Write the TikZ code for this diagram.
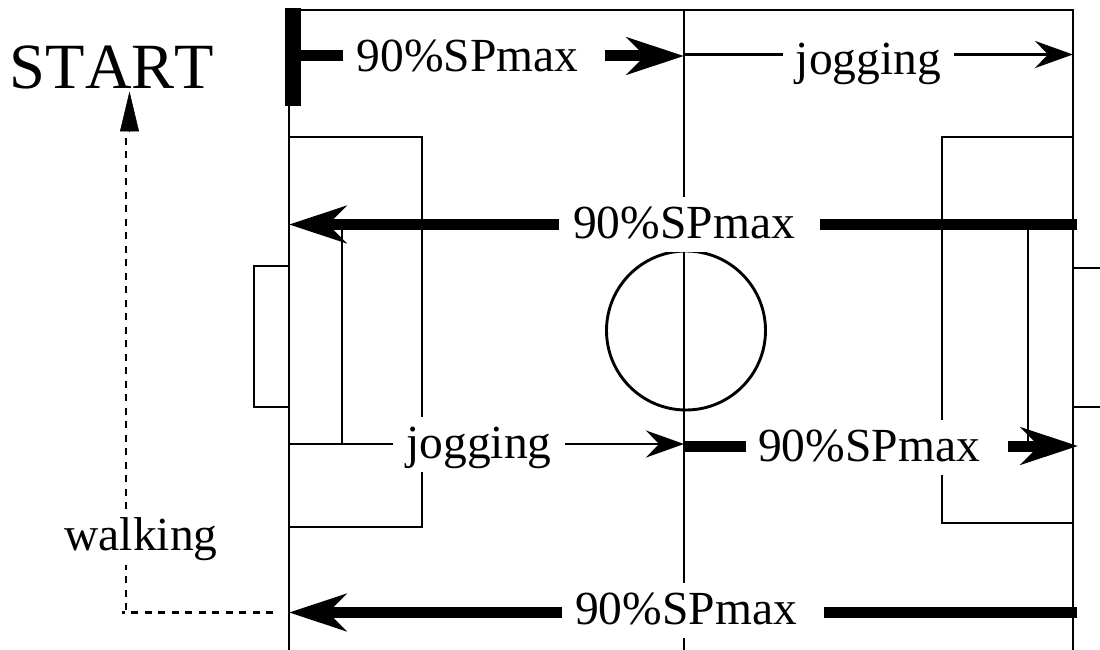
\documentclass[tikz,border=0pt]{standalone}
\usepackage{fontspec}
\setmainfont{Liberation Serif}
\usetikzlibrary{arrows.meta}
\tikzset{
  x=1pt,y=-1pt,
  fieldline/.style={line width=2.9pt,line cap=butt},
  heavy/.style={line width=11pt,-{Stealth[length=57pt,width=37pt,inset=18pt]}},
  heavyplain/.style={line width=11pt},
  thinplain/.style={line width=2.9pt},
  thinarrow/.style={line width=2.9pt,-{Stealth[length=38pt,width=27pt,inset=13pt]}},
  walkline/.style={line width=2.7pt,dash pattern=on 7pt off 6.5pt},
  walktip/.style={-{Triangle[length=40pt,width=19pt]},line width=0.5pt},
  lbl/.style={fill=white,inner sep=0pt,font=\fontsize{47.5pt}{50pt}\selectfont,text height=41pt,text depth=14pt},
  startlbl/.style={inner sep=0pt,anchor=base,font=\fontsize{64.5pt}{66pt}\selectfont\addfontfeatures{Kerning=Off}},
  startbar/.style={fill=black,draw=none}
}
\begin{document}
\begin{tikzpicture}
\useasboundingbox (0,0) rectangle (1100,650);
% field corners and key points
\coordinate (tl) at (289,10); \coordinate (tr) at (1073,10);
\coordinate (bl) at (289,650); \coordinate (br) at (1073,650);
\coordinate (tm) at (684,10); \coordinate (bm) at (684,650);
% field
\draw[fieldline] (bl) -- (tl) -- (tr) -- (br);
\draw[fieldline] (tm) -- (bm);
\draw[fieldline] (686,330.5) circle (79.5);
\draw[fieldline] (289,137) -- (422,137) -- (422,527) -- (289,527);
\draw[fieldline] (1073,137) -- (942,137) -- (942,523) -- (1073,523);
\draw[fieldline] (342,226) -- (342,444);
\draw[fieldline] (1028,226) -- (1028,446);
\draw[fieldline] (289,266) -- (254,266) -- (254,407) -- (289,407);
\draw[fieldline] (1073,268) -- (1100,268);
\draw[fieldline] (1073,407) -- (1100,407);
% path points
\coordinate (a0) at (301,56); \coordinate (a1) at (684,56);
\coordinate (a1t) at (684,54.5); \coordinate (a2) at (1073,54.5);
\coordinate (b0) at (1077,224.5); \coordinate (b1) at (289,224.5);
\coordinate (c0) at (289,444); \coordinate (c1) at (684,444);
\coordinate (c1h) at (684,446); \coordinate (c2) at (1078,446);
\coordinate (d0) at (1077,612.5); \coordinate (d1) at (289,612.5);
\coordinate (e0) at (273,612.5); \coordinate (e1) at (122,612.5);
\coordinate (e2) at (126,610); \coordinate (e3) at (126,136);
\coordinate (t0) at (129.5,131.5); \coordinate (t1) at (129.5,91.5);
% labels
\node[lbl,minimum width=262pt] (sp1) at (474,58.5) {\kern-13pt 90\%SPmax};
\node[lbl,minimum width=171pt] (jog1) at (868.5,61.5) {jogging};
\node[lbl,minimum width=261pt] (sp2) at (689.5,224.5) {\kern-11pt 90\%SPmax};
\node[lbl,minimum width=172pt] (jog2) at (479,444.5) {jogging};
\node[lbl,minimum width=262pt] (sp3) at (877,447.5) {\kern-16pt 90\%SPmax};
\node[lbl,minimum width=262pt] (sp4) at (693,610.5) {\kern-14pt 90\%SPmax};
\node[lbl,minimum width=152pt] (walk) at (141,537) {walking};
\node[startlbl] (start) at (112,89) {START};
% connectors
\draw[heavyplain] (a0) -- (sp1.west |- a0);
\draw[heavy] (sp1.east |- a1) -- (a1);
\draw[thinplain] (a1t) -- (jog1.west |- a1t);
\draw[thinarrow] (jog1.east |- a2) -- (a2);
\draw[heavy] (sp2.west |- b1) -- (b1);
\draw[heavyplain] (b0) -- (sp2.east |- b0);
\draw[thinplain] (c0) -- (jog2.west |- c0);
\draw[thinarrow] (jog2.east |- c1) -- (c1);
\draw[heavyplain] (c1h) -- (sp3.west |- c1h);
\draw[heavy] (sp3.east |- c2) -- (c2);
\draw[heavy] (sp4.west |- d1) -- (d1);
\draw[heavyplain] (d0) -- (sp4.east |- d0);
\draw[walkline] (e0) -- (e1);
\draw[walkline] (e2) -- (walk.south -| e2);
\draw[walkline] (walk.north -| e3) -- (e3);
\draw[walktip] (t0) -- (t1);
% starting bar
\fill[startbar] (285,8) rectangle (301,106);
\end{tikzpicture}
\end{document}
